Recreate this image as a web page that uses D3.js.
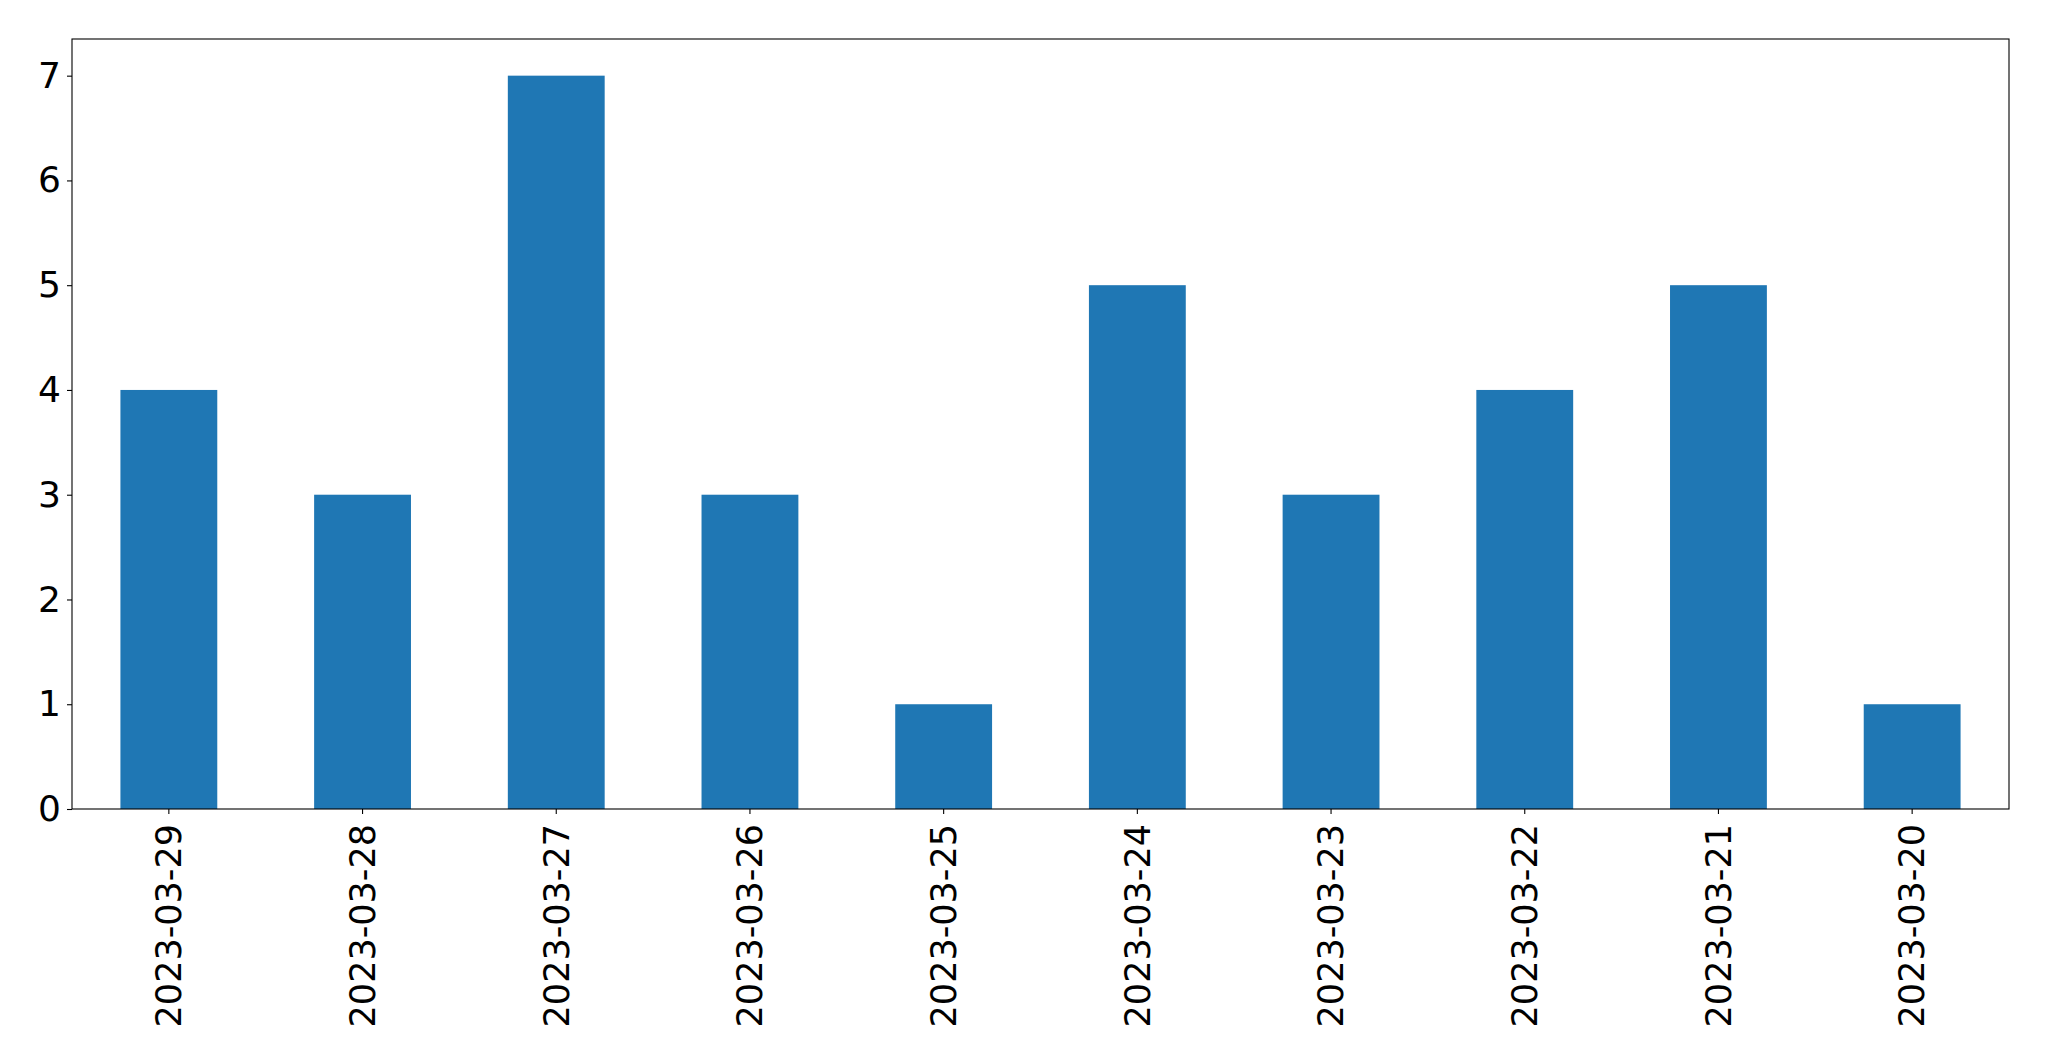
<!DOCTYPE html>
<html>
<head>
<meta charset="utf-8">
<script src="https://cdn.jsdelivr.net/npm/d3@7"></script>
<style>
    body { margin: 0; background: #fff; }
    text { font-family: "DejaVu Sans", sans-serif; }
</style>
</head>
<body>
<svg id="chart" width="2049" height="1061"></svg>
<script>
const dates = ["2023-03-29", "2023-03-28", "2023-03-27", "2023-03-26", "2023-03-25",
               "2023-03-24", "2023-03-23", "2023-03-22", "2023-03-21", "2023-03-20"];
const counts = [4, 3, 7, 3, 1, 5, 3, 4, 5, 1];
const yTicks = [0, 1, 2, 3, 4, 5, 6, 7];

const margin = {top: 39, right: 40, bottom: 252, left: 72},
    width = 2049 - margin.left - margin.right,
    height = 1061 - margin.top - margin.bottom;

const svg = d3.select("#chart")
    .append("g")
        .attr("transform", "translate(" + margin.left + "," + margin.top + ")");

// Band scale with half-width bars, like pandas' bar plot
let x = d3.scaleBand()
    .range([0, width])
    .domain(dates)
    .paddingInner(0.5)
    .paddingOuter(0.25);

let y = d3.scaleLinear()
    .domain([0, 7.35])
    .range([height, 0]);

// Bars
svg.selectAll(".bar")
    .data(dates)
    .enter()
    .append("rect")
        .attr("class", "bar")
        .attr("x", d => x(d))
        .attr("y", (d, i) => y(counts[i]))
        .attr("width", x.bandwidth())
        .attr("height", (d, i) => height - y(counts[i]))
        .attr("fill", "#1f77b4");

// x axis
const xAxis = svg.append("g")
    .attr("transform", "translate(0," + height + ")")
    .call(d3.axisBottom(x).tickSize(5).tickPadding(6));
xAxis.select(".domain").remove();
xAxis.selectAll("line").attr("stroke", "#000").attr("stroke-width", 1.1);
xAxis.selectAll("text")
    .attr("fill", "#000")
    .style("font-size", "35px")
    .attr("transform", "rotate(-90)")
    .attr("x", -15)
    .attr("y", 0)
    .attr("dy", "0.35em")
    .style("text-anchor", "end");

// y axis
const yAxis = svg.append("g")
    .call(d3.axisLeft(y).tickValues(yTicks).tickSize(5).tickPadding(6));
yAxis.select(".domain").remove();
yAxis.selectAll("line").attr("stroke", "#000").attr("stroke-width", 1.1);
yAxis.selectAll("text")
    .attr("fill", "#000")
    .style("font-size", "36px");

// Frame
svg.append("rect")
    .attr("x", 0)
    .attr("y", 0)
    .attr("width", width)
    .attr("height", height)
    .attr("fill", "none")
    .attr("stroke", "#000")
    .attr("stroke-width", 1.1);
</script>
</body>
</html>
